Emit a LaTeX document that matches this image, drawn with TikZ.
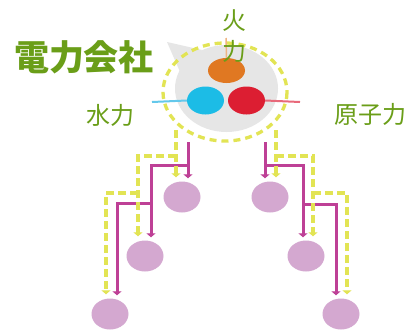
\documentclass[tikz,border=0pt]{standalone}
\usepackage{fontspec}
\newfontfamily\cjk{Noto Sans CJK JP}
\usetikzlibrary{arrows.meta,shapes.geometric}
\definecolor{txtgreen}{RGB}{106,158,24}
\definecolor{bubblegrey}{RGB}{230,230,230}
\definecolor{dashyellow}{RGB}{226,228,84}
\definecolor{orangeC}{RGB}{224,120,34}
\definecolor{blueC}{RGB}{28,188,230}
\definecolor{redC}{RGB}{220,30,50}
\definecolor{blueline}{RGB}{100,200,235}
\definecolor{redline}{RGB}{232,105,122}
\definecolor{orline}{RGB}{240,180,130}
\definecolor{magC}{RGB}{190,64,150}
\definecolor{lavC}{RGB}{212,168,208}
\tikzset{
  label/.style={font={\cjk\fontsize{24}{31}\selectfont}, text=txtgreen, inner sep=0pt},
  leaf/.style={ellipse, fill=lavC, minimum width=37pt, minimum height=31pt, inner sep=0pt},
  dot/.style={ellipse, minimum width=37pt, minimum height=28pt, inner sep=0pt},
  magline/.style={draw=magC, line width=3pt, -{Triangle[width=9pt,length=4pt]}},
  magplain/.style={draw=magC, line width=3pt},
  yelline/.style={draw=dashyellow, line width=3.5pt, dash pattern=on 8pt off 4pt, -{Triangle[width=9pt,length=4pt]}},
}
\begin{document}
\begin{tikzpicture}[x=1pt,y=-1pt]
\useasboundingbox (0,0) rectangle (410,330);
\fill[white] (0,0) rectangle (410,330);

% bubble
\fill[bubblegrey] (167,42) -- (181,74) -- (202,50) -- cycle;
\fill[bubblegrey] (226.5,88.5) ellipse [x radius=51.5, y radius=43.5];
\draw[draw=dashyellow, line width=3.3pt, dash pattern=on 7pt off 5pt] (225,92) ellipse [x radius=62, y radius=49];

% coloured dots
\coordinate (otop) at (226,38);
\coordinate (bl) at (152,102);
\coordinate (rl) at (300,102);
\node[dot, fill=orangeC, minimum height=25pt] (orange) at (226.5,70.5) {};
\node[dot, fill=blueC] (blue) at (205.5,100.5) {};
\node[dot, fill=redC] (red) at (246.5,100.5) {};
\draw[orline, line width=1.5pt] (otop) -- (orange.north);
\draw[blueline, line width=2pt] (bl) -- (blue.west);
\draw[redline, line width=2pt] (red.east) -- (rl);

% labels
\node[label, font={\cjk\bfseries\fontsize{35}{40}\selectfont}] (title) at (84,57) {電力会社};
\node[label] (hydro) at (110,115) {水力};
\node[label] (nuclear) at (370,114) {原子力};
\node[label, align=center] (fire) at (234,36) {火\\力};

% leaves
\node[leaf] (l1) at (182,197) {};
\node[leaf] (l2) at (145,256) {};
\node[leaf] (l3) at (110,314) {};
\node[leaf] (r1) at (270,197) {};
\node[leaf] (r2) at (306,256) {};
\node[leaf] (r3) at (341,314) {};

% magenta tree coordinates
\coordinate (mL0) at (188,142);
\coordinate (mL1) at (188,165);
\coordinate (mL2) at (151,165);
\coordinate (mL3) at (151,203);
\coordinate (mL4) at (117,203);
\coordinate (mR0) at (265,142);
\coordinate (mR1) at (265,165);
\coordinate (mR2) at (303,165);
\coordinate (mR3) at (303,204);
\coordinate (mR4) at (336,204);

\draw[magline] (mL0) -- ([yshift=3pt]l1.north -| mL0);
\draw[magplain] (mL1) -- (mL2) -- (mL3);
\draw[magline] (mL2) -- ([yshift=3pt]l2.north -| mL2);
\draw[magline] (mL3) -- (mL4) -- ([yshift=3pt]l3.north -| mL4);
\draw[magline] (mR0) -- ([yshift=3pt]r1.north -| mR0);
\draw[magplain] (mR1) -- (mR2) -- (mR3);
\draw[magline] (mR2) -- ([yshift=3pt]r2.north -| mR2);
\draw[magline] (mR3) -- (mR4) -- ([yshift=3pt]r3.north -| mR4);

% yellow dashed tree coordinates
\coordinate (yL0) at (176,130);
\coordinate (yL1) at (176,156);
\coordinate (yL2) at (138,156);
\coordinate (yL3) at (138,193);
\coordinate (yL4) at (106,193);
\coordinate (yR0) at (276,130);
\coordinate (yR1) at (276,156);
\coordinate (yR2) at (313,156);
\coordinate (yR3) at (313,193);
\coordinate (yR4) at (347,193);

\draw[yelline] (yL0) -- ([yshift=4pt]l1.north -| yL0);
\draw[yelline] (yL1) -- (yL2) -- ([yshift=4pt]l2.north -| yL2);
\draw[yelline] (yL3) -- (yL4) -- ([yshift=4pt]l3.north -| yL4);
\draw[yelline] (yR0) -- ([yshift=4pt]r1.north -| yR0);
\draw[yelline] (yR1) -- (yR2) -- ([yshift=4pt]r2.north -| yR2);
\draw[yelline] (yR3) -- (yR4) -- ([yshift=4pt]r3.north -| yR4);
\end{tikzpicture}
\end{document}
